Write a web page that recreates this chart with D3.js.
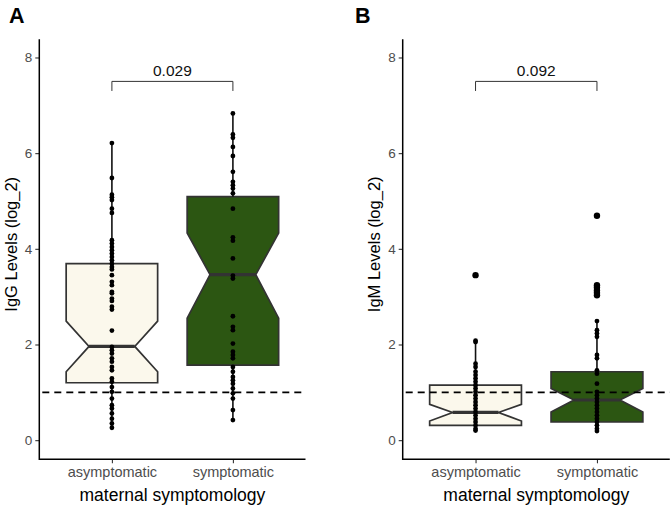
<!DOCTYPE html>
<html><head><meta charset="utf-8">
<script src="https://cdn.jsdelivr.net/npm/d3@7"></script>
<style>body{margin:0;background:#fff}svg{display:block}text{font-family:"Liberation Sans",Arial,Helvetica,sans-serif}</style>
</head><body><svg id="c" width="672" height="507"></svg>
<script>
const categories = ["asymptomatic", "symptomatic"];
const yTicks = [0, 2, 4, 6, 8];

// Panel A: IgG
const iggAsym = [6.21, 5.48, 5.13, 5.08, 5.02, 4.84, 4.75, 4.18, 4.11, 4.04, 3.97, 3.90, 3.83, 3.76, 3.69, 3.62, 3.57, 3.45, 3.31, 3.24, 3.10, 3.07, 2.96, 2.91, 2.79, 2.73, 2.29, 1.95, 1.88, 1.81, 1.71, 1.64, 1.53, 1.46, 1.29, 1.22, 1.11, 1.01, 0.87, 0.73, 0.66, 0.56, 0.45, 0.35, 0.26];
const iggSym = [6.83, 6.39, 6.32, 6.13, 5.94, 5.61, 5.40, 5.33, 5.26, 5.16, 4.84, 4.24, 4.17, 3.80, 3.44, 3.38, 2.59, 2.37, 2.30, 2.02, 1.85, 1.78, 1.71, 1.53, 1.43, 1.32, 1.25, 1.18, 1.08, 0.98, 0.87, 0.63, 0.42];
const iggQ1 = [1.20, 1.57];
const iggMedian = [1.96, 3.46];
const iggQ3 = [3.69, 5.09];
const iggNotchLo = [1.43, 2.55];
const iggNotchHi = [2.49, 4.33];
const iggWhiskerLo = [0.26, 0.42];
const iggWhiskerHi = [6.21, 6.83];
const iggP = "0.029";

// Panel B: IgM
const igmAsym = [3.45, 2.08, 2.05, 1.60, 1.53, 1.43, 1.36, 1.29, 1.22, 1.15, 1.08, 1.01, 0.94, 0.87, 0.80, 0.73, 0.66, 0.59, 0.52, 0.45, 0.38, 0.31, 0.24, 0.20];
const igmSym = [4.69, 3.24, 3.19, 3.13, 3.08, 3.03, 2.49, 2.30, 2.23, 2.16, 1.78, 1.71, 1.46, 1.39, 1.18, 1.01, 0.94, 0.87, 0.80, 0.73, 0.66, 0.59, 0.52, 0.45, 0.38, 0.31, 0.24, 0.19];
const igmQ1 = [0.31, 0.38];
const igmMedian = [0.58, 0.84];
const igmQ3 = [1.15, 1.43];
const igmNotchLo = [0.40, 0.59];
const igmNotchHi = [0.75, 1.08];
const igmWhiskerLo = [0.20, 0.19];
const igmWhiskerHi = [2.08, 2.49];
const igmP = "0.092";

const threshold = 1;
const bracketY = 7.5, bracketTick = 7.3;
const fills = ["#FBF8EC", "#2C5612"];

const svg = d3.select("#c");

function panel(opt) {
  const g = svg.append("g");
  const x0 = opt.left, x1 = opt.right, yTop = 39.3, yBot = 459.3;
  const x = d3.scaleLinear().domain([0.4, 2.6]).range([x0, x1]);
  const y = d3.scaleLinear().domain([-0.4, 8.38]).range([yBot, yTop]);
  const bw = 0.378, nw = 0.189;

  g.append("text").attr("x", opt.labelX).attr("y", 23).attr("font-size", 21.5).attr("font-weight", "bold").attr("fill", "#000").text(opt.letter);

  categories.forEach((c, i) => {
    const cx = i + 1;
    const pts = [
      [cx - bw, opt.q3[i]], [cx + bw, opt.q3[i]], [cx + bw, opt.nHi[i]], [cx + nw, opt.med[i]],
      [cx + bw, opt.nLo[i]], [cx + bw, opt.q1[i]], [cx - bw, opt.q1[i]], [cx - bw, opt.nLo[i]],
      [cx - nw, opt.med[i]], [cx - bw, opt.nHi[i]]
    ];
    g.append("path").attr("d", d3.line().x(d => x(d[0])).y(d => y(d[1]))(pts) + "Z")
      .attr("fill", fills[i]).attr("stroke", "#333").attr("stroke-width", 1.7).attr("stroke-linejoin", "miter");
    g.append("line").attr("x1", x(cx - nw)).attr("x2", x(cx + nw)).attr("y1", y(opt.med[i])).attr("y2", y(opt.med[i]))
      .attr("stroke", "#333").attr("stroke-width", 3.2);
    g.append("line").attr("x1", x(cx)).attr("x2", x(cx)).attr("y1", y(opt.q3[i])).attr("y2", y(opt.wHi[i]))
      .attr("stroke", "#111").attr("stroke-width", 1.6);
    g.append("line").attr("x1", x(cx)).attr("x2", x(cx)).attr("y1", y(opt.q1[i])).attr("y2", y(opt.wLo[i]))
      .attr("stroke", "#111").attr("stroke-width", 1.6);
  });

  opt.data.forEach((arr, i) => {
    g.selectAll(null).data(arr).enter().append("circle")
      .attr("cx", x(i + 1)).attr("cy", d => y(d))
      .attr("r", d => (d > opt.wHi[i] + 0.001 ? 3.2 : 2.4)).attr("fill", "#000");
  });

  g.append("line").attr("x1", x0 + 3).attr("x2", x1).attr("y1", y(threshold)).attr("y2", y(threshold))
    .attr("stroke", "#000").attr("stroke-width", 1.7).attr("stroke-dasharray", "7,5");

  g.append("path").attr("d", d3.line().x(d => x(d[0])).y(d => y(d[1]))([[1, bracketTick], [1, bracketY], [2, bracketY], [2, bracketTick]]))
    .attr("fill", "none").attr("stroke", "#333").attr("stroke-width", 1);
  g.append("text").attr("x", x(1.5)).attr("y", y(bracketY) - 5).attr("text-anchor", "middle").attr("font-size", 15.5).attr("fill", "#111").text(opt.p);

  const ya = g.append("g").attr("transform", `translate(${x0},0)`).call(d3.axisLeft(y).tickValues(yTicks).tickSize(4).tickPadding(3).tickFormat(d3.format("d")));
  ya.select(".domain").remove();
  ya.selectAll(".tick line").attr("stroke", "#333").attr("stroke-width", 1.1);
  ya.selectAll(".tick text").attr("font-size", 13.5).attr("fill", "#4d4d4d").attr("font-family", "Liberation Sans, Arial, sans-serif");
  const xa = g.append("g").attr("transform", `translate(0,${yBot})`).call(d3.axisBottom(x).tickValues([1, 2]).tickSize(4).tickPadding(3).tickFormat((d, i) => categories[i]));
  xa.select(".domain").remove();
  xa.selectAll(".tick line").attr("stroke", "#333").attr("stroke-width", 1.1);
  xa.selectAll(".tick text").attr("font-size", 14.5).attr("fill", "#4d4d4d").attr("font-family", "Liberation Sans, Arial, sans-serif");
  g.append("path").attr("d", `M${x0},${yTop}V${yBot}H${x1}`).attr("fill", "none").attr("stroke", "#000").attr("stroke-width", 1.5);

  g.append("text").attr("x", (x0 + x1) / 2).attr("y", 501).attr("text-anchor", "middle").attr("font-size", 17.5).attr("fill", "#000").text("maternal symptomology");
  g.append("text").attr("transform", `translate(${opt.yTitleX},${(yTop + yBot) / 2 - 5}) rotate(-90)`).attr("text-anchor", "middle")
    .attr("font-size", 16.5).attr("fill", "#000").text(opt.yTitle);
}

panel({ left: 39.3, right: 305.5, letter: "A", labelX: 9, yTitleX: 17, yTitle: "IgG Levels (log_2)",
  data: [iggAsym, iggSym], q1: iggQ1, med: iggMedian, q3: iggQ3, nLo: iggNotchLo, nHi: iggNotchHi, wLo: iggWhiskerLo, wHi: iggWhiskerHi, p: iggP });
panel({ left: 402.7, right: 669.8, letter: "B", labelX: 355, yTitleX: 380, yTitle: "IgM Levels (log_2)",
  data: [igmAsym, igmSym], q1: igmQ1, med: igmMedian, q3: igmQ3, nLo: igmNotchLo, nHi: igmNotchHi, wLo: igmWhiskerLo, wHi: igmWhiskerHi, p: igmP });
</script></body></html>
